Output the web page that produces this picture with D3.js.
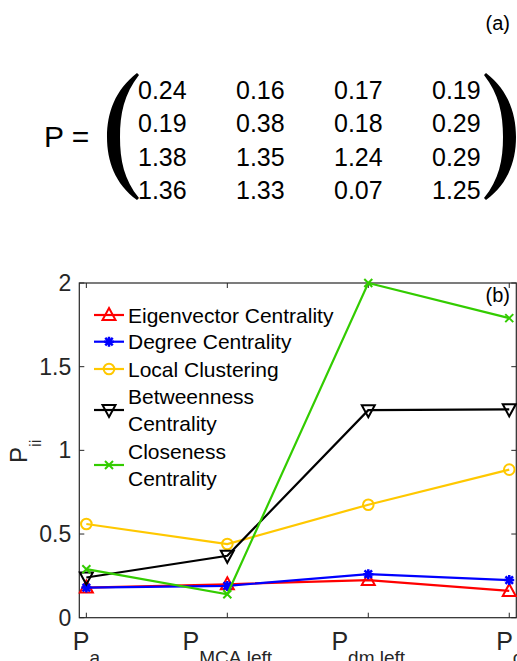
<!DOCTYPE html>
<html><head><meta charset="utf-8">
<script src="https://cdn.jsdelivr.net/npm/d3@7"></script>
<style>body{margin:0;background:#fff}svg{display:block}text{font-family:"Liberation Sans",Arial,Helvetica,sans-serif}</style>
</head><body>
<svg id="c" width="517" height="661"></svg>
<script>
// ---- data ----
const matrixRows = [
  ["0.24","0.16","0.17","0.19"],
  ["0.19","0.38","0.18","0.29"],
  ["1.38","1.35","1.24","0.29"],
  ["1.36","1.33","0.07","1.25"]
];
const categories = ["a","MCA.left","dm.left","c"];
const seriesNames = ["Eigenvector Centrality","Degree Centrality","Local Clustering","Betweenness Centrality","Closeness Centrality"];
const eigenvector = [0.18, 0.20, 0.225, 0.16];
const degree = [0.18, 0.19, 0.26, 0.225];
const localClustering = [0.56, 0.44, 0.675, 0.885];
const betweenness = [0.24, 0.37, 1.24, 1.245];
const closeness = [0.29, 0.14, 2.0, 1.79];
const yTicks = [0, 0.5, 1, 1.5, 2];

const colors = ["#ff0000","#0000ff","#ffc800","#000000","#33cc00"];
const markers = ["tri","star","circle","tridown","x"];
const legendLines = [["Eigenvector Centrality"],["Degree Centrality"],["Local Clustering"],["Betweenness","Centrality"],["Closeness","Centrality"]];
const seriesValues = [eigenvector, degree, localClustering, betweenness, closeness];

const svg = d3.select("#c");
const axisColor = "#262626";

// ---- panel (a): matrix ----
svg.append("text").attr("x",510).attr("y",30).attr("text-anchor","end")
  .attr("font-size",20).attr("fill","#000").text("(a)");
svg.append("text").attr("x",44).attr("y",147).attr("font-size",30).attr("fill","#000").text("P =");
// parentheses
svg.append("path").attr("fill","#000")
  .attr("d","M137,73 C115,90 107,113 107,137 C107,161 115,184 137,200 L139,198 C124,180 120,160 120,137 C120,114 124,94 139,75 Z");
svg.append("path").attr("fill","#000")
  .attr("d","M486,73 C508,90 516,113 516,137 C516,161 508,184 486,200 L484,198 C499,180 503,160 503,137 C503,114 499,94 484,75 Z");
const colX = d3.scalePoint().domain(d3.range(4)).range([138, 432]);
const rowY = d3.scalePoint().domain(d3.range(4)).range([99, 199]);
matrixRows.forEach((row, r) => {
  row.forEach((v, c) => {
    svg.append("text").attr("x", colX(c)).attr("y", rowY(r))
      .attr("font-size", 25).attr("fill","#000").text(v);
  });
});

// ---- panel (b): line chart ----
const x = d3.scaleLinear().domain([-0.05, 3.05]).range([79.3, 516.3]);
const y = d3.scaleLinear().domain([0, 2]).range([617.7, 283]);
const g = svg.append("g");

// box
g.append("rect").attr("x", x(-0.05)).attr("y", y(2)).attr("width", x(3.05)-x(-0.05)).attr("height", y(0)-y(2))
  .attr("fill","none").attr("stroke",axisColor).attr("stroke-width",1.2);

// y ticks left & right
yTicks.forEach(t => {
  g.append("line").attr("x1",x(-0.05)).attr("x2",x(-0.05)+5).attr("y1",y(t)).attr("y2",y(t)).attr("stroke",axisColor);
  g.append("line").attr("x1",x(3.05)).attr("x2",x(3.05)-5).attr("y1",y(t)).attr("y2",y(t)).attr("stroke",axisColor);
  g.append("text").attr("x",x(-0.05)-8).attr("y",y(t)+8).attr("text-anchor","end")
    .attr("font-size",23).attr("fill",axisColor).text(d3.format("")(t));
});
// x ticks bottom & top
categories.forEach((c, i) => {
  g.append("line").attr("x1",x(i)).attr("x2",x(i)).attr("y1",y(0)).attr("y2",y(0)-5).attr("stroke",axisColor);
  g.append("line").attr("x1",x(i)).attr("x2",x(i)).attr("y1",y(2)).attr("y2",y(2)+5).attr("stroke",axisColor);
  const t = g.append("text").attr("x",x(i)).attr("y",650).attr("text-anchor","middle").attr("fill",axisColor);
  t.append("tspan").attr("font-size",25).text("P");
  t.append("tspan").attr("font-size",19).attr("dy",13.5).text(c);
});

// y label
const yl = g.append("text").attr("transform","translate(27,463) rotate(-90)").attr("fill",axisColor);
yl.append("tspan").attr("font-size",24).text("P");
yl.append("tspan").attr("font-size",17).attr("dy",14).text("ii");

// (b)
g.append("text").attr("x",510).attr("y",302).attr("text-anchor","end").attr("font-size",20).attr("fill","#000").text("(b)");

function drawMarker(sel, type, cx, cy, color) {
  if (type === "tri") {
    sel.append("path").attr("d", `M${cx},${cy-7} L${cx+6.5},${cy+5} L${cx-6.5},${cy+5} Z`)
      .attr("fill","none").attr("stroke",color).attr("stroke-width",2);
  } else if (type === "tridown") {
    sel.append("path").attr("d", `M${cx},${cy+7} L${cx+6.5},${cy-5} L${cx-6.5},${cy-5} Z`)
      .attr("fill","none").attr("stroke",color).attr("stroke-width",2);
  } else if (type === "circle") {
    sel.append("circle").attr("cx",cx).attr("cy",cy).attr("r",5.3)
      .attr("fill","none").attr("stroke",color).attr("stroke-width",2);
  } else if (type === "star") {
    const r = 5;
    const d = [[0,-r,0,r],[-r,0,r,0],[-r*0.75,-r*0.75,r*0.75,r*0.75],[-r*0.75,r*0.75,r*0.75,-r*0.75]]
      .map(a => `M${cx+a[0]},${cy+a[1]} L${cx+a[2]},${cy+a[3]}`).join(" ");
    sel.append("path").attr("d", d).attr("stroke",color).attr("stroke-width",2.5).attr("fill","none");
  } else if (type === "x") {
    const r = 4;
    sel.append("path").attr("d", `M${cx-r},${cy-r} L${cx+r},${cy+r} M${cx-r},${cy+r} L${cx+r},${cy-r}`)
      .attr("stroke",color).attr("stroke-width",2).attr("fill","none");
  }
}

const line = d3.line().x((d,i) => x(i)).y(d => y(d));
seriesValues.forEach((vals, s) => {
  const sg = g.append("g");
  sg.append("path").attr("d", line(vals)).attr("fill","none").attr("stroke",colors[s]).attr("stroke-width",2.2);
  vals.forEach((v, i) => drawMarker(sg, markers[s], x(i), y(v), colors[s]));
});

// legend
const legendCenters = [315, 341.7, 369, 410, 465];
legendLines.forEach((lines, s) => {
  const cy = legendCenters[s];
  g.append("line").attr("x1",94).attr("x2",124).attr("y1",cy).attr("y2",cy).attr("stroke",colors[s]).attr("stroke-width",2.2);
  drawMarker(g, markers[s], 109, cy, colors[s]);
  const n = lines.length;
  lines.forEach((ln, k) => {
    const ty = cy + (k - (n-1)/2) * 27;
    g.append("text").attr("x",128).attr("y",ty+7.5).attr("font-size",21).attr("fill","#000").text(ln);
  });
});
</script>
</body></html>
